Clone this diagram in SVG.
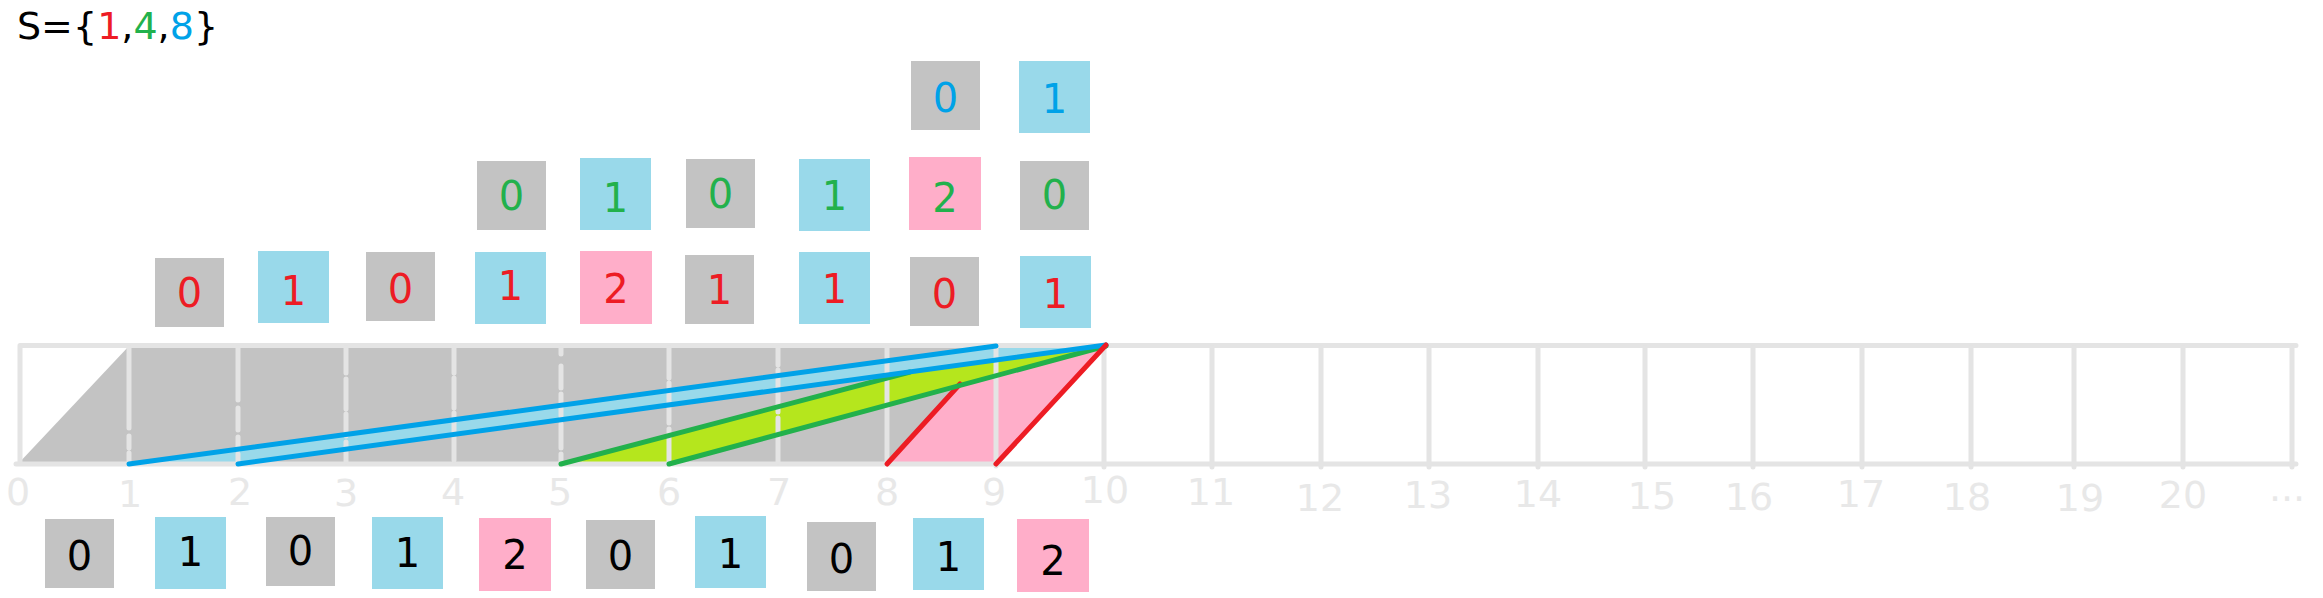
<svg xmlns="http://www.w3.org/2000/svg" width="2323" height="598" viewBox="0 0 2323 598">
<style>
.gy{fill:#c3c3c3}
.bl{fill:#99d9ea}
.pk{fill:#ffaec9}
.lm{fill:#b5e61d}
.d{font-family:"DejaVu Sans","Verdana",sans-serif;font-size:40px;text-anchor:middle}
.k{fill:#000}
.r{fill:#ed1c24}
.gn{fill:#22b14c}
.bu{fill:#00a2e8}
.tick{font-family:"DejaVu Sans","Verdana",sans-serif;font-size:38px;text-anchor:middle;fill:#e8e8e8}
.grid{stroke:#e4e4e4;stroke-width:5;fill:none;stroke-linecap:round;stroke-linejoin:round}
.ln{stroke-width:5;fill:none;stroke-linecap:round}
</style>
<rect width="2323" height="598" fill="#fff"/>
<text id="title" x="17" y="39" font-family="DejaVu Sans, Verdana, sans-serif" font-size="38" fill="#000">S={<tspan fill="#ed1c24">1</tspan>,<tspan fill="#22b14c">4</tspan>,<tspan fill="#00a2e8">8</tspan>}</text>

<g id="fills">
<polygon class="gy" points="17,465 129,346 996,346 887,464"/>
<polygon class="pk" points="887,464 996,346 1104,346 996,464"/>
<polygon class="lm" points="561,464 910,372 1104,346 669,464"/>
<polygon class="bl" points="129,464 996,346 1104,346 238,464"/>
</g>

<g id="grid">
<path class="grid" d="M20,464 V345.5 H2296 M16,464 H2296"/>
<path class="grid" d="M129,348 V462" stroke-dasharray="80 8 12 5 10"/>
<path class="grid" d="M238,348 V462" stroke-dasharray="52 8 22 7 13 4 12"/>
<path class="grid" d="M346,348 V462" stroke-dasharray="25 6 30 5 22 6 20"/>
<path class="grid" d="M454,348 V462" stroke-dasharray="25 5 30 5 47"/>
<path class="grid" d="M561,348 V462" stroke-dasharray="6 12 22 6 22 8 24"/>
<path class="grid" d="M669,348 V462" stroke-dasharray="30 5 40 6 33"/>
<path class="grid" d="M778,348 V462" stroke-dasharray="17 5 42 6 44"/>
<path class="grid" d="M887,348 V462 M996,348 V466 M1104,348 V467 M1212,348 V467 M1321,348 V467 M1429,348 V467 M1538,348 V467 M1645,348 V467 M1753,348 V467 M1862,348 V467 M1971,348 V467 M2074,348 V467 M2183,348 V467 M2292,348 V467"/>
</g>

<g id="connectors">
<line class="ln" stroke="#ed1c24" stroke-width="6" x1="887" y1="464" x2="960" y2="384"/>
<line class="ln" stroke="#22b14c" x1="561" y1="464" x2="910" y2="372"/>
<line class="ln" stroke="#22b14c" x1="669" y1="464" x2="1106" y2="346"/>
<line class="ln" stroke="#00a2e8" x1="129" y1="464" x2="996" y2="346"/>
<line class="ln" stroke="#00a2e8" x1="238" y1="464" x2="1106" y2="345"/>
<line class="ln" stroke="#ed1c24" stroke-width="6" x1="996" y1="464" x2="1106" y2="345"/>
</g>

<g id="ticks">
<text class="tick" x="18" y="505">0</text>
<text class="tick" x="130" y="507">1</text>
<text class="tick" x="240" y="505">2</text>
<text class="tick" x="346" y="506">3</text>
<text class="tick" x="453" y="505">4</text>
<text class="tick" x="560" y="505">5</text>
<text class="tick" x="669" y="505">6</text>
<text class="tick" x="779" y="505">7</text>
<text class="tick" x="887" y="505">8</text>
<text class="tick" x="994" y="505">9</text>
<text class="tick" x="1105" y="503">10</text>
<text class="tick" x="1211" y="505">11</text>
<text class="tick" x="1320" y="511">12</text>
<text class="tick" x="1428" y="508">13</text>
<text class="tick" x="1538" y="507">14</text>
<text class="tick" x="1652" y="509">15</text>
<text class="tick" x="1749" y="510">16</text>
<text class="tick" x="1861" y="507">17</text>
<text class="tick" x="1967" y="510">18</text>
<text class="tick" x="2080" y="511">19</text>
<text class="tick" x="2183" y="508">20</text>
<text class="tick" x="2287" y="501">...</text>
</g>

<g id="row1">
<g id="r1-0"><rect class="gy" x="911" y="61" width="69" height="69"/><text class="d bu" x="945.5" y="112">0</text></g>
<g id="r1-1"><rect class="bl" x="1019" y="61" width="71" height="72"/><text class="d bu" x="1054.5" y="113">1</text></g>
</g>

<g id="row2">
<g id="r2-0"><rect class="gy" x="477" y="161" width="69" height="69"/><text class="d gn" x="511.5" y="210">0</text></g>
<g id="r2-1"><rect class="bl" x="580" y="158" width="71" height="72"/><text class="d gn" x="615.5" y="212">1</text></g>
<g id="r2-2"><rect class="gy" x="686" y="159" width="69" height="69"/><text class="d gn" x="720.5" y="208">0</text></g>
<g id="r2-3"><rect class="bl" x="799" y="159" width="71" height="72"/><text class="d gn" x="834.5" y="210">1</text></g>
<g id="r2-4"><rect class="pk" x="909" y="157" width="72" height="73"/><text class="d gn" x="945" y="212">2</text></g>
<g id="r2-5"><rect class="gy" x="1020" y="161" width="69" height="69"/><text class="d gn" x="1054.5" y="209">0</text></g>
</g>

<g id="row3">
<g id="r3-0"><rect class="gy" x="155" y="258" width="69" height="69"/><text class="d r" x="189.5" y="307">0</text></g>
<g id="r3-1"><rect class="bl" x="258" y="251" width="71" height="72"/><text class="d r" x="293.5" y="305">1</text></g>
<g id="r3-2"><rect class="gy" x="366" y="252" width="69" height="69"/><text class="d r" x="400.5" y="303">0</text></g>
<g id="r3-3"><rect class="bl" x="475" y="252" width="71" height="72"/><text class="d r" x="510.5" y="300">1</text></g>
<g id="r3-4"><rect class="pk" x="580" y="251" width="72" height="73"/><text class="d r" x="616" y="303">2</text></g>
<g id="r3-5"><rect class="gy" x="685" y="255" width="69" height="69"/><text class="d r" x="719.5" y="304">1</text></g>
<g id="r3-6"><rect class="bl" x="799" y="252" width="71" height="72"/><text class="d r" x="834.5" y="303">1</text></g>
<g id="r3-7"><rect class="gy" x="910" y="257" width="69" height="69"/><text class="d r" x="944.5" y="308">0</text></g>
<g id="r3-8"><rect class="bl" x="1020" y="256" width="71" height="72"/><text class="d r" x="1055.5" y="308">1</text></g>
</g>

<g id="row4">
<g id="r4-0"><rect class="gy" x="45" y="519" width="69" height="69"/><text class="d k" x="79.5" y="570">0</text></g>
<g id="r4-1"><rect class="bl" x="155" y="517" width="71" height="72"/><text class="d k" x="190.5" y="566">1</text></g>
<g id="r4-2"><rect class="gy" x="266" y="517" width="69" height="69"/><text class="d k" x="300.5" y="565">0</text></g>
<g id="r4-3"><rect class="bl" x="372" y="517" width="71" height="72"/><text class="d k" x="407.5" y="567">1</text></g>
<g id="r4-4"><rect class="pk" x="479" y="518" width="72" height="73"/><text class="d k" x="515" y="569">2</text></g>
<g id="r4-5"><rect class="gy" x="586" y="520" width="69" height="69"/><text class="d k" x="620.5" y="570">0</text></g>
<g id="r4-6"><rect class="bl" x="695" y="516" width="71" height="72"/><text class="d k" x="730.5" y="568">1</text></g>
<g id="r4-7"><rect class="gy" x="807" y="522" width="69" height="69"/><text class="d k" x="841.5" y="573">0</text></g>
<g id="r4-8"><rect class="bl" x="913" y="518" width="71" height="72"/><text class="d k" x="948.5" y="571">1</text></g>
<g id="r4-9"><rect class="pk" x="1017" y="519" width="72" height="73"/><text class="d k" x="1053" y="575">2</text></g>
</g>
</svg>
